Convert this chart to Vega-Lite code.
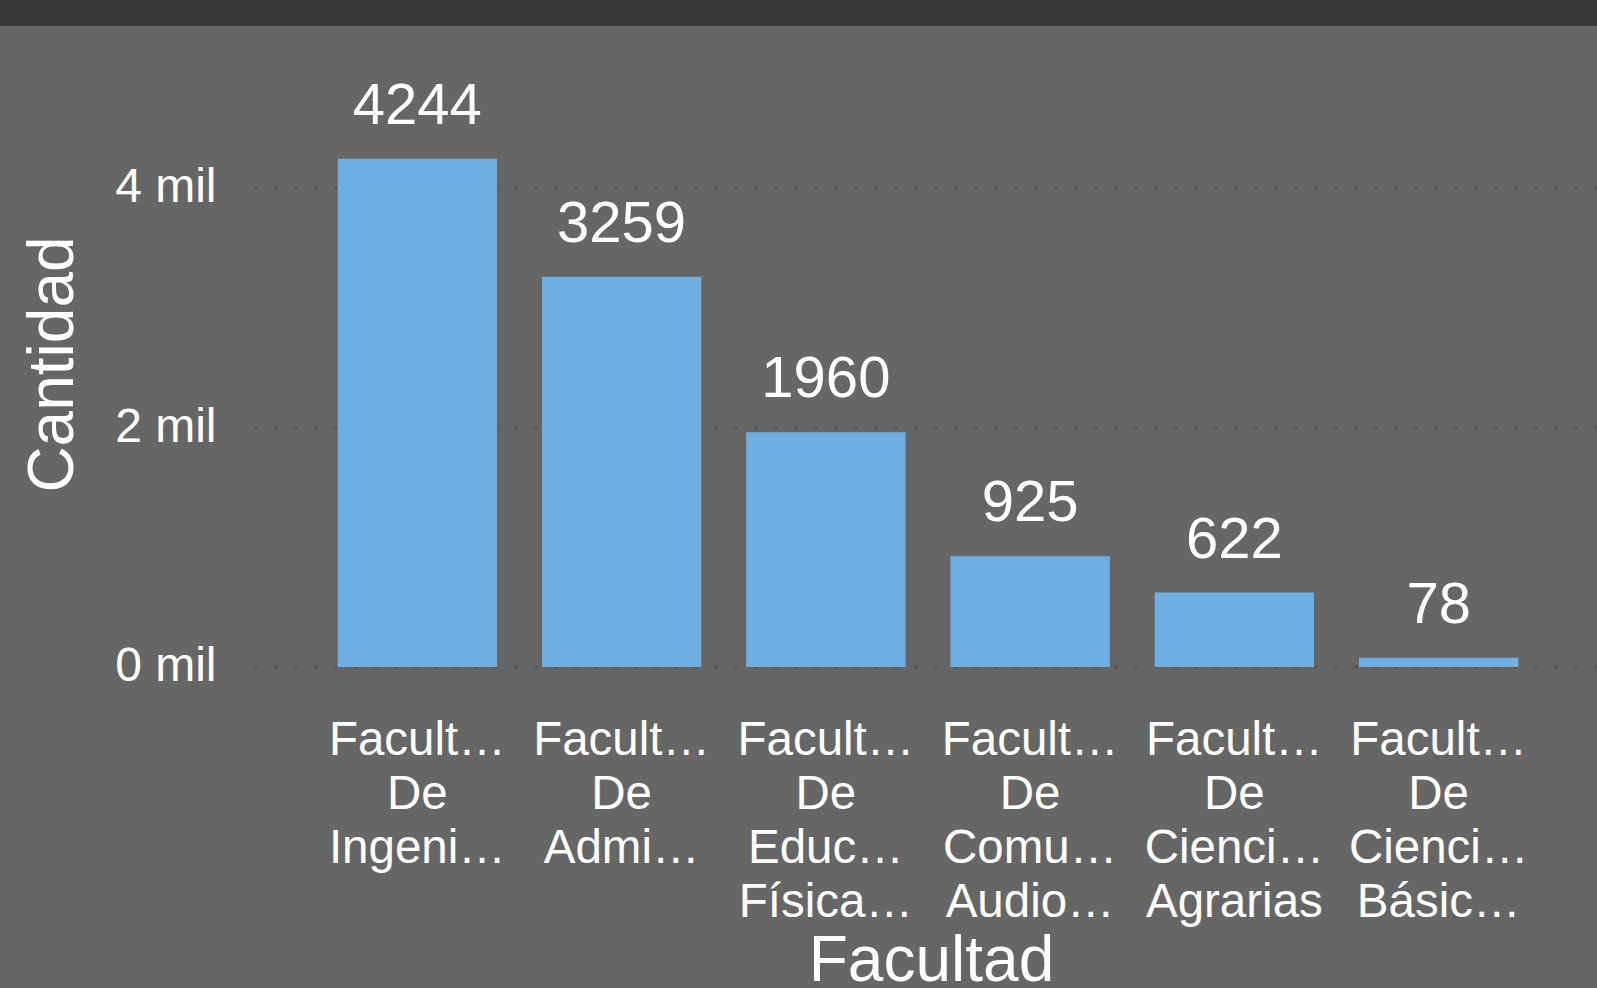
{
  "$schema": "https://vega.github.io/schema/vega-lite/v6.json",
  "width": 1597,
  "height": 962,
  "autosize": {"type": "none"},
  "padding": {"top": 26, "left": 0, "right": 0, "bottom": 0},
  "background": "#383838",
  "config": {
    "view": {"fill": "#666666", "stroke": null},
    "font": "Liberation Sans"
  },
  "datasets": {
    "facultades": [
      {"Facultad": "Facultad De Ingenierías", "Cantidad": 4244},
      {"Facultad": "Facultad De Administración", "Cantidad": 3259},
      {"Facultad": "Facultad De Educación Física, Recreación Y Deporte", "Cantidad": 1960},
      {"Facultad": "Facultad De Comunicación Audiovisual", "Cantidad": 925},
      {"Facultad": "Facultad De Ciencias Agrarias", "Cantidad": 622},
      {"Facultad": "Facultad De Ciencias Básicas, Sociales Y Humanas", "Cantidad": 78}
    ],
    "rejilla": [
      {"Cantidad": 0},
      {"Cantidad": 2000},
      {"Cantidad": 4000}
    ]
  },
  "data": {"name": "facultades"},
  "encoding": {
    "x": {
      "field": "Facultad",
      "type": "nominal",
      "sort": null,
      "scale": {
        "domain": [
          "Facultad De Ingenierías",
          "Facultad De Administración",
          "Facultad De Educación Física, Recreación Y Deporte",
          "Facultad De Comunicación Audiovisual",
          "Facultad De Ciencias Agrarias",
          "Facultad De Ciencias Básicas, Sociales Y Humanas"
        ],
        "paddingInner": 0.1815,
        "paddingOuter": 1,
        "align": 0.817
      },
      "axis": {
        "title": "Facultad",
        "offset": -321,
        "domain": false,
        "ticks": false,
        "grid": false,
        "labelAngle": 0,
        "labelFontSize": 47.5,
        "labelColor": "#ffffff",
        "labelLimit": 181,
        "labelLineHeight": 54,
        "labelPadding": 49,
        "labelOverlap": false,
        "labelExpr": "[split(datum.label,' ')[0], split(datum.label,' ')[1], split(datum.label,' ')[2], join(slice(split(datum.label,' '),3),' ')]",
        "titleFontSize": 64,
        "titleFontWeight": "normal",
        "titleColor": "#ffffff",
        "titleX": 931,
        "titleY": 313,
        "titleAlign": "center",
        "titleBaseline": "alphabetic"
      }
    },
    "y": {
      "field": "Cantidad",
      "type": "quantitative",
      "scale": {"domain": [-2680.6, 5352.8], "nice": false, "zero": false},
      "axis": {
        "title": "Cantidad",
        "offset": -253,
        "values": [0, 2000, 4000],
        "labelExpr": "datum.value/1000 + ' mil'",
        "domain": false,
        "ticks": false,
        "grid": false,
        "labelFontSize": 48,
        "labelColor": "#ffffff",
        "labelPadding": 37,
        "titleFontSize": 64,
        "titleFontWeight": "normal",
        "titleColor": "#ffffff",
        "titleX": -181,
        "titleY": 338,
        "titleAngle": -90,
        "titleAlign": "center",
        "titleBaseline": "alphabetic"
      }
    }
  },
  "layer": [
    {
      "data": {"name": "rejilla"},
      "mark": {"type": "rule", "color": "#595959", "strokeWidth": 4, "strokeDash": [0.1, 19.9], "strokeDashOffset": 17, "strokeCap": "round"},
      "encoding": {
        "x": {"datum": "Facultad De Ingenierías", "type": "nominal", "bandPosition": -0.483},
        "x2": {"datum": "Facultad De Ciencias Básicas, Sociales Y Humanas", "bandPosition": 1.447},
        "y": {"field": "Cantidad", "type": "quantitative"}
      }
    },
    {
      "mark": {"type": "bar", "color": "#70AFDF", "width": {"band": 0.9528}},
      "encoding": {"y2": {"datum": 0}}
    },
    {
      "mark": {"type": "text", "dy": -35, "baseline": "alphabetic", "fontSize": 58, "color": "#ffffff"},
      "encoding": {"text": {"field": "Cantidad", "type": "quantitative", "format": "d"}}
    }
  ]
}
